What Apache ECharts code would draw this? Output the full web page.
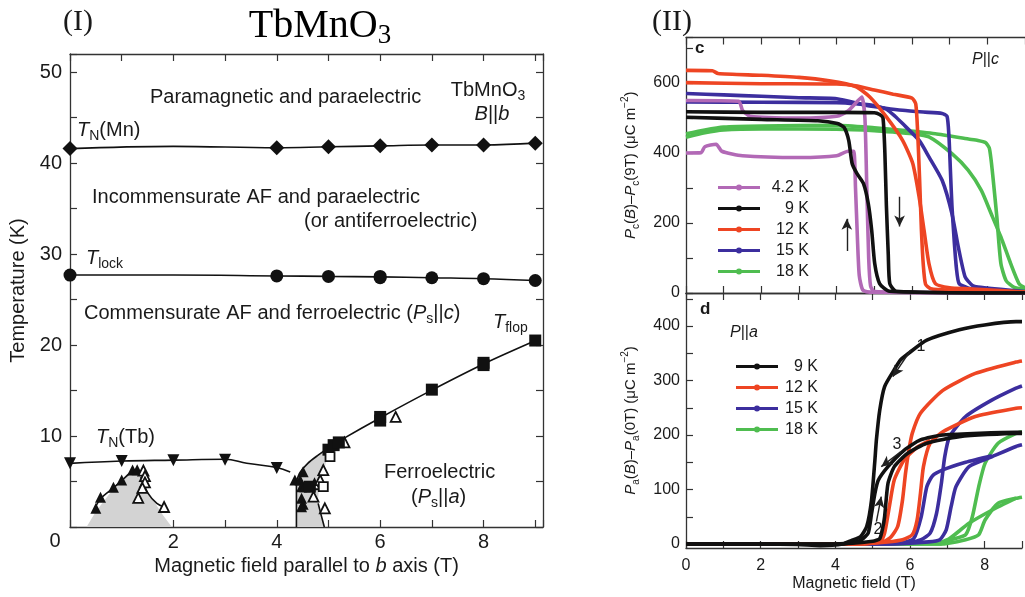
<!DOCTYPE html>
<html>
<head>
<meta charset="utf-8">
<title>TbMnO3</title>
<script src="https://cdn.jsdelivr.net/npm/echarts@6/dist/echarts.min.js"></script>
<style>
  html, body { margin: 0; padding: 0; background: #fff; }
  #chart { width: 1025px; height: 597px; }
</style>
</head>
<body>
<div id="chart"></div>
<script>
const FONT = 'Liberation Sans, Arial, Helvetica, sans-serif';
const SERIF = 'Liberation Serif, Times New Roman, serif';

// ---- (I) phase diagram of TbMnO3, B || b ----
const tnMnPts = [[0, 41.6], [4, 41.7], [5, 41.8], [6, 41.9], [7, 42.0], [8, 42.0], [9, 42.2]];
const tnMnLine = [[0, 41.6], [2, 41.85], [4, 41.7], [5, 41.8], [6, 41.9], [7, 42.0], [8, 42.0], [9, 42.2]];
const tlockPts = [[0, 27.7], [4, 27.6], [5, 27.55], [6, 27.55], [6, 27.4], [7, 27.4], [8, 27.3], [9, 27.1]];
const tlockLine = [[0, 27.7], [2, 27.7], [4, 27.6], [5, 27.55], [6, 27.5], [7, 27.4], [8, 27.3], [9, 27.1]];
const tnTbPts = [[0, 7.0], [1, 7.25], [2, 7.35], [3, 7.4], [4, 6.5]];
const tnTbLine = [[0, 7.0], [1, 7.25], [2, 7.35], [3, 7.45], [3.42, 7.0], [4, 6.55], [4.26, 6.05]];
const pocketLeftLine = [[4.38, 0], [4.38, 5.0]];
const tflopLine = [[4.38, 5.0], [4.45, 6.0], [4.6, 7.0], [4.8, 7.9], [5.0, 8.7], [5.22, 9.5], [6.03, 12.1], [7.0, 15.05], [8.03, 18.0], [9.03, 20.55]];
const domeLeftLine = [[0.45, 1.7], [0.59, 3.1], [0.84, 4.3], [1.0, 5.1], [1.2, 6.1], [1.3, 6.3]];
const domeRightLine = [[1.37, 5.5], [1.51, 3.7], [1.68, 2.6], [1.82, 2.2]];
const pocketRightLine = [[4.8, 2.6], [4.85, 1.5], [4.92, 0]];
const filledTriPts = [[0.5, 2.05], [0.59, 3.26], [0.84, 4.36], [1.0, 5.16], [1.21, 6.26], [1.3, 6.3],
  [4.35, 5.16], [4.45, 5.16], [4.51, 6.08], [4.48, 4.43], [4.54, 4.43], [4.48, 3.15], [4.51, 2.5], [4.48, 2.23]];
const openTriPts = [[1.42, 6.2], [1.45, 5.6], [1.45, 4.9], [1.4, 4.3], [1.32, 3.2], [1.82, 2.2],
  [4.71, 3.33], [4.73, 4.7], [4.84, 5.16], [4.9, 6.26], [4.93, 2.05], [5.31, 9.3], [6.3, 12.1]];
const filledSqPts = [[4.64, 4.43], [5.0, 8.5], [5.1, 9.0], [5.2, 9.3], [6.0, 12.1], [6.0, 11.7],
  [7.0, 15.1], [8.0, 18.05], [8.0, 17.8], [9.0, 20.5]];
const openSqPts = [[4.9, 4.43], [5.03, 7.73]];
const shadedRegions = [
  [[0.32, 0], [0.5, 1.7], [0.84, 4.2], [1.25, 6.4], [1.4, 5.6], [1.5, 4.0], [1.65, 2.6], [1.8, 1.3], [1.97, 0]],
  [[4.38, 0], [4.38, 5.0], [4.45, 6.0], [4.6, 7.0], [4.8, 7.9], [4.97, 8.6], [4.97, 7.5], [4.9, 6.0],
    [4.82, 4.5], [4.8, 3.2], [4.85, 1.5], [4.92, 0]]
];

// ---- (II c) Pc(B) - Pc(9T), two sweep branches per temperature ----
const pc42A = [[0, 550], [1.4, 548], [1.5, 522], [1.7, 505], [3, 500], [4, 505], [4.3, 520], [4.55, 548], [4.67, 560],
  [4.75, 500], [4.8, 300], [4.85, 100], [4.9, 20], [5.0, 4], [9, 0]];
const pc42B = [[0, 400], [0.4, 401], [0.5, 418], [0.8, 425], [0.95, 405], [1.5, 392], [3, 387], [4, 392], [4.3, 405],
  [4.45, 405], [4.5, 300], [4.55, 160], [4.6, 50], [4.7, 8], [5, 2], [9, 0]];
const pc9A = [[0, 518], [2, 516], [4, 516], [5.0, 515], [5.14, 510], [5.23, 500], [5.28, 400], [5.32, 250],
  [5.37, 110], [5.41, 27], [5.58, 5], [9, 0]];
const pc9B = [[0, 502], [2, 496], [3.5, 492], [4.02, 484], [4.19, 474], [4.32, 436], [4.41, 370], [4.54, 341],
  [4.71, 313], [4.84, 255], [4.93, 179], [5.01, 84], [5.14, 27], [5.4, 5], [9, 0]];
const pc12A = [[0, 636], [0.7, 635], [0.85, 627], [2, 622], [3, 616], [3.8, 606], [4.5, 590], [4.88, 560], [5.32, 503],
  [5.75, 436], [6.02, 370], [6.19, 274], [6.32, 179], [6.45, 84], [6.62, 27], [7.0, 15], [7.5, 12], [9, 3]];
const pc12B = [[0, 601], [2, 598], [4, 597], [4.5, 592], [5, 580], [5.5, 568], [6.0, 557], [6.1, 540], [6.15, 460],
  [6.2, 330], [6.25, 180], [6.3, 80], [6.36, 25], [6.5, 12], [7, 8], [9, 3]];
const pc15A = [[0, 570], [1, 566], [2, 562], [3, 558], [4, 555], [4.8, 536], [5.3, 528], [5.75, 522], [6.3, 517],
  [6.8, 513], [6.93, 505], [6.98, 450], [7.02, 350], [7.06, 250], [7.12, 150], [7.18, 70], [7.25, 27], [7.5, 14],
  [7.7, 10], [9, 3]];
const pc15B = [[0, 546], [2, 545], [4, 544], [4.5, 541], [5, 535], [5.32, 525], [5.55, 505], [5.75, 484], [6.19, 436],
  [6.45, 389], [6.8, 322], [7.06, 227], [7.23, 131], [7.41, 46], [7.6, 22], [7.75, 17], [9, 4]];
const pc18A = [[0, 455], [0.5, 466], [1, 474], [2, 477], [4, 479], [5, 472], [5.75, 465], [6.62, 455], [7.5, 440],
  [7.75, 436], [7.95, 430], [8.05, 415], [8.1, 380], [8.15, 330], [8.25, 220], [8.36, 84], [8.5, 35], [8.7, 17], [9, 10]];
const pc18B = [[0, 445], [0.5, 458], [1, 466], [2, 469], [4, 468], [5, 464], [5.5, 460], [6.0, 455], [6.45, 446],
  [7.06, 398], [7.49, 351], [7.84, 293], [8.1, 227], [8.36, 160], [8.62, 84], [8.84, 27], [9, 15]];

// ---- (II d) Pa(B) - Pa(0T) ----
const pa9A = [[0, 0], [2, 0], [3, -1], [3.6, -3], [4.2, 0], [4.45, 7], [4.67, 13], [4.84, 32], [4.97, 81], [5.06, 154],
  [5.1, 191], [5.19, 246], [5.32, 289], [5.58, 320], [5.75, 338], [6.0, 352], [6.45, 374], [7.32, 393], [8.0, 402],
  [8.84, 408], [9, 408]];
const pa9B = [[0, 0], [4, 0], [5.0, 5], [5.19, 10], [5.27, 30], [5.32, 50], [5.41, 111], [5.58, 142], [5.93, 166],
  [6.45, 185], [7.32, 197], [8.84, 203], [9, 203]];
const pa9C = [[0, 0], [4, 0], [4.5, 3], [4.7, 8], [4.88, 20], [4.97, 56], [5.06, 93], [5.15, 117], [5.41, 142],
  [5.84, 172], [6.28, 191], [6.88, 200], [8.84, 205], [9, 205]];
const pa12A = [[0, 0], [4.5, 0], [5.3, 5], [5.49, 13], [5.67, 32], [5.8, 81], [5.88, 130], [5.97, 172], [6.06, 203],
  [6.28, 240], [6.88, 282], [7.75, 313], [8.84, 334], [9, 336]];
const pa12B = [[0, 0], [4.5, 0], [5.4, 4], [5.8, 8], [6.06, 17], [6.19, 44], [6.28, 93], [6.36, 142], [6.54, 185],
  [6.88, 206], [7.75, 234], [8.84, 249], [9, 250]];
const pa12C = [[4.5, 0], [5.2, 4], [5.32, 20], [5.45, 70], [5.58, 118], [5.84, 154], [6.2, 178], [6.54, 190]];
const pa15A = [[0, 0], [5.2, 0], [6.0, 3], [6.3, 8], [6.54, 20], [6.71, 56], [6.84, 111], [6.93, 160], [7.06, 197],
  [7.49, 234], [8.19, 264], [8.84, 286], [9, 290]];
const pa15B = [[0, 0], [5.2, 0], [6.5, 4], [6.8, 8], [6.97, 26], [7.1, 68], [7.23, 105], [7.58, 142], [8.19, 160],
  [8.84, 179], [9, 182]];
const pa15C = [[5.8, 2], [6.1, 10], [6.3, 50], [6.45, 105], [6.6, 125], [6.88, 136], [7.49, 150], [8.19, 162]];
const pa18A = [[0, 0], [6.8, 0], [7.1, 8], [7.49, 17], [7.67, 50], [7.84, 105], [8.01, 148], [8.36, 185], [8.84, 203], [9, 206]];
const pa18B = [[0, 0], [6.8, 0], [7.49, 8], [7.84, 17], [8.01, 44], [8.36, 75], [8.84, 84], [9, 86]];
const pa18C = [[6.8, 2], [7.06, 10], [7.58, 38], [8.19, 62], [8.84, 84]];

const legendC = ['4.2 K', '9 K', '12 K', '15 K', '18 K'];
const legendD = ['9 K', '12 K', '15 K', '18 K'];
const tempColors = { '4.2 K': '#b269b6', '9 K': '#111111', '12 K': '#ee4523', '15 K': '#3c2e9e', '18 K': '#4fbd50' };

const AXIS_COLOR = '#333';
const TEXT_COLOR = '#1a1a1a';

function rich(size) {
  const sub = Math.round(size * 0.68);
  return {
    i: { fontStyle: 'italic', fontSize: size, fontFamily: FONT, lineHeight: size + 6, color: TEXT_COLOR },
    s: { fontSize: sub, fontFamily: FONT, verticalAlign: 'bottom', lineHeight: sub + 1, color: TEXT_COLOR },
    p: { fontSize: sub, fontFamily: FONT, verticalAlign: 'top', lineHeight: sub + 1, color: TEXT_COLOR },
    n: { fontSize: size, fontFamily: FONT, lineHeight: size + 6, color: TEXT_COLOR }
  };
}

function label(x, y, text, size, align, extra) {
  return {
    type: 'text', x, y, silent: true, z: 100,
    style: Object.assign({
      text, fill: TEXT_COLOR, fontSize: size, fontFamily: FONT, lineHeight: size + 6,
      align: align || 'left', verticalAlign: 'middle',
      textAlign: align || 'left', textVerticalAlign: 'middle',
      rich: rich(size)
    }, extra || {})
  };
}

function baseAxis(grid, extra) {
  return Object.assign({
    gridIndex: grid,
    type: 'value',
    splitLine: { show: false },
    axisLine: { show: true, onZero: false, lineStyle: { color: AXIS_COLOR, width: 1.3 } },
    axisTick: { show: true, inside: true, length: 7, lineStyle: { color: AXIS_COLOR, width: 1.2 } },
    axisLabel: { show: false }
  }, extra);
}

function evenLabel(v) {
  return (v > 0 && Math.abs(v % 2) < 1e-9) ? String(v) : '';
}

const xAxes = [
  baseAxis(0, {
    position: 'bottom', min: 0, max: 9.15, interval: 1,
    axisLabel: { show: true, formatter: evenLabel, fontSize: 20, fontFamily: FONT, color: TEXT_COLOR, margin: 5 },
    name: 'Magnetic field parallel to {i|b} axis (T)', nameLocation: 'middle', nameGap: 25,
    nameTextStyle: { fontSize: 20, fontFamily: FONT, color: TEXT_COLOR, rich: rich(20) }
  }),
  baseAxis(0, { position: 'top', min: 0, max: 9.15, interval: 1 }),
  baseAxis(1, { position: 'bottom', min: 0, max: 9, interval: 1 }),
  baseAxis(1, { position: 'top', min: 0, max: 9, interval: 1 }),
  baseAxis(2, {
    position: 'bottom', min: 0, max: 9, interval: 1,
    axisLabel: { show: true, formatter: (v) => (v % 2 === 0 ? String(v) : ''), fontSize: 16, fontFamily: FONT, color: TEXT_COLOR, margin: 10 },
    name: 'Magnetic field (T)', nameLocation: 'middle', nameGap: 28,
    nameTextStyle: { fontSize: 16, fontFamily: FONT, color: TEXT_COLOR }
  }),
  baseAxis(2, { position: 'top', min: 0, max: 9, interval: 1 })
];

const yAxes = [
  baseAxis(0, {
    position: 'left', min: 0, max: 52, interval: 5,
    axisLabel: { show: true, formatter: (v) => (v > 0 && v % 10 === 0 ? String(v) : ''), fontSize: 20, fontFamily: FONT, color: TEXT_COLOR, margin: 8 },
    name: 'Temperature (K)', nameLocation: 'middle', nameGap: 42, nameRotate: 90,
    nameTextStyle: { fontSize: 20, fontFamily: FONT, color: TEXT_COLOR }
  }),
  baseAxis(0, { position: 'right', min: 0, max: 52, interval: 5 }),
  baseAxis(1, {
    position: 'left', min: 0, max: 730, interval: 100,
    axisLabel: { show: true, formatter: (v) => (v % 200 === 0 && v <= 600 ? String(v) : ''), fontSize: 16, fontFamily: FONT, color: TEXT_COLOR, margin: 6 },
    name: '{i|P}{s|c}({i|B})\u2013{i|P}{s|c}(9T) (\u03bcC m{p|\u22122})', nameLocation: 'middle', nameGap: 45, nameRotate: 90,
    nameTextStyle: { fontSize: 15, fontFamily: FONT, color: TEXT_COLOR, lineHeight: 21, rich: rich(15) }
  }),
  baseAxis(2, {
    position: 'left', min: -7.3, max: 460.6,
    axisTick: { show: true, inside: true, length: 7, customValues: [0, 50, 100, 150, 200, 250, 300, 350, 400, 450], lineStyle: { color: AXIS_COLOR, width: 1.2 } },
    axisLabel: { show: true, customValues: [0, 100, 200, 300, 400], fontSize: 16, fontFamily: FONT, color: TEXT_COLOR, margin: 6 },
    name: '{i|P}{s|a}({i|B})\u2013{i|P}{s|a}(0T) (\u03bcC m{p|\u22122})', nameLocation: 'middle', nameGap: 45, nameRotate: 90,
    nameTextStyle: { fontSize: 15, fontFamily: FONT, color: TEXT_COLOR, lineHeight: 21, rich: rich(15) }
  })
];

function blackLine(data, smooth) {
  return {
    type: 'line', data, xAxisIndex: 0, yAxisIndex: 0, symbol: 'none', smooth: smooth,
    lineStyle: { color: '#111', width: 1.6 }, z: 3, silent: true
  };
}

function marks(data, symbol, size, rotate, empty) {
  return {
    type: 'scatter', data, xAxisIndex: 0, yAxisIndex: 0, symbol, symbolSize: size, symbolRotate: rotate || 0,
    itemStyle: empty
      ? { color: '#fff', borderColor: '#111', borderWidth: 1.8, opacity: 1 }
      : { color: '#111', opacity: 1 },
    z: 5, silent: true
  };
}

function curve(name, data, panel) {
  return {
    type: 'line', name, data,
    xAxisIndex: panel === 'c' ? 2 : 4, yAxisIndex: panel === 'c' ? 2 : 3,
    symbol: 'none', smooth: 0.2,
    lineStyle: { color: tempColors[name], width: 3.6 }, itemStyle: { color: tempColors[name] },
    z: 3, silent: true, clip: true
  };
}

const arrowStyle = {
  silent: true, symbol: ['none', 'arrow'], symbolSize: [8, 11],
  lineStyle: { color: '#222', width: 1.4, type: 'solid' }, label: { show: false }
};

const series = [
  {
    type: 'custom', xAxisIndex: 0, yAxisIndex: 0, z: 1, silent: true, clip: true,
    data: shadedRegions.map((r, i) => [i, 0]),
    renderItem(params, api) {
      const pts = shadedRegions[params.dataIndex].map((p) => api.coord(p));
      return { type: 'polygon', shape: { points: pts }, style: { fill: '#d3d3d3' } };
    }
  },
  blackLine(tnMnLine, 0.4),
  blackLine(tlockLine, 0.4),
  blackLine(tnTbLine, 0.4),
  blackLine(pocketLeftLine, false),
  blackLine(tflopLine, 0.3),
  blackLine(domeLeftLine, 0.3),
  blackLine(domeRightLine, 0.4),
  blackLine(pocketRightLine, 0.3),
  marks(tnMnPts, 'diamond', 15),
  marks(tlockPts, 'circle', 13),
  marks(tnTbPts, 'triangle', 12, 180),
  marks(filledTriPts, 'triangle', 11),
  marks(openTriPts, 'triangle', 10, 0, true),
  marks(filledSqPts, 'rect', 12),
  marks(openSqPts, 'rect', 9, 0, true),

  curve('18 K', pc18A, 'c'), curve('18 K', pc18B, 'c'),
  curve('15 K', pc15A, 'c'), curve('15 K', pc15B, 'c'),
  curve('12 K', pc12A, 'c'), curve('12 K', pc12B, 'c'),
  curve('4.2 K', pc42A, 'c'), curve('4.2 K', pc42B, 'c'),
  curve('9 K', pc9A, 'c'),
  Object.assign(curve('9 K', pc9B, 'c'), {
    markLine: Object.assign({}, arrowStyle, {
      data: [
        [{ coord: [5.67, 275] }, { coord: [5.67, 190] }],
        [{ coord: [4.27, 120] }, { coord: [4.27, 212] }]
      ]
    })
  }),

  curve('18 K', pa18A, 'd'), curve('18 K', pa18B, 'd'), curve('18 K', pa18C, 'd'),
  curve('15 K', pa15A, 'd'), curve('15 K', pa15B, 'd'), curve('15 K', pa15C, 'd'),
  curve('12 K', pa12A, 'd'), curve('12 K', pa12B, 'd'), curve('12 K', pa12C, 'd'),
  curve('9 K', pa9B, 'd'), curve('9 K', pa9C, 'd'),
  Object.assign(curve('9 K', pa9A, 'd'), {
    markLine: Object.assign({}, arrowStyle, {
      data: [
        [{ coord: [6.02, 356] }, { coord: [5.54, 307] }],
        [{ coord: [5.75, 169] }, { coord: [5.23, 142] }],
        [{ coord: [5.1, 41] }, { coord: [5.23, 87] }]
      ]
    })
  })
];

// line with a dot in the middle, both drawn clockwise so the dot stays filled
const legendIcon = 'path://M0,2h42v3h-42z M18,3.5a3,3 0 1,1 6,0a3,3 0 1,1 -6,0z';

function legend(data, left, top, textWidth) {
  return {
    data, orient: 'vertical', left, top, itemWidth: 42, itemHeight: 6, itemGap: 0,
    icon: legendIcon, selectedMode: false,
    formatter: (n) => '{r|' + n + '}',
    textStyle: {
      fontSize: 16, fontFamily: FONT, color: TEXT_COLOR, lineHeight: 21,
      rich: { r: { width: textWidth, align: 'right', fontSize: 16, fontFamily: FONT, lineHeight: 21, color: TEXT_COLOR } }
    }
  };
}

const serifStyle = { fontFamily: SERIF, rich: {} };

const graphics = [
  label(63, 22, '(I)', 30, 'left', serifStyle),
  label(652, 22, '(II)', 30, 'left', serifStyle),
  {
    type: 'text', x: 320, y: 26, silent: true,
    style: {
      text: '{t|TbMnO}{u|3}', align: 'center', verticalAlign: 'middle', textAlign: 'center', textVerticalAlign: 'middle',
      rich: {
        t: { fontSize: 40, fontFamily: SERIF, lineHeight: 46, color: '#111' },
        u: { fontSize: 27, fontFamily: SERIF, verticalAlign: 'bottom', lineHeight: 28, color: '#111' }
      }
    }
  },
  label(55, 541, '0', 20, 'center'),
  label(150, 97, 'Paramagnetic and paraelectric', 20),
  label(488, 90, '{n|TbMnO}{s|3}', 20, 'center'),
  label(492, 114, '{i|B}||{i|b}', 20, 'center'),
  label(77, 130, '{i|T}{s|N}(Mn)', 20),
  label(92, 197, 'Incommensurate AF and paraelectric', 20),
  label(304, 221, '(or antiferroelectric)', 20),
  label(86, 258, '{i|T}{s|lock}', 20),
  label(84, 313, 'Commensurate AF and ferroelectric ({i|P}{s|s}||{i|c})', 20),
  label(493, 322, '{i|T}{s|flop}', 20),
  label(96, 437, '{i|T}{s|N}(Tb)', 20),
  label(384, 472, 'Ferroelectric', 20),
  label(411, 497, '({i|P}{s|s}||{i|a})', 20),
  label(695, 48, 'c', 17, 'left', { fontWeight: 'bold' }),
  label(700, 309, 'd', 17, 'left', { fontWeight: 'bold' }),
  label(972, 60, '{i|P}||{i|c}', 16),
  label(730, 333, '{i|P}||{i|a}', 16),
  label(921, 347, '1', 16, 'center'),
  label(897, 445, '3', 16, 'center'),
  label(878, 530, '2', 16, 'center')
];

const option = {
  backgroundColor: '#fff',
  animation: false,
  textStyle: { fontFamily: FONT },
  grid: [
    { left: 70, top: 54, width: 473, height: 473 },
    { left: 686, top: 37.5, width: 345, height: 255.5 },
    { left: 686, top: 293, width: 345, height: 255 }
  ],
  xAxis: xAxes,
  yAxis: yAxes,
  legend: [legend(legendC, 713, 172, 44), legend(legendD, 731, 351, 35)],
  graphic: { elements: graphics },
  series
};

const chart = echarts.init(document.getElementById('chart'));
chart.setOption(option);
</script>
</body>
</html>
